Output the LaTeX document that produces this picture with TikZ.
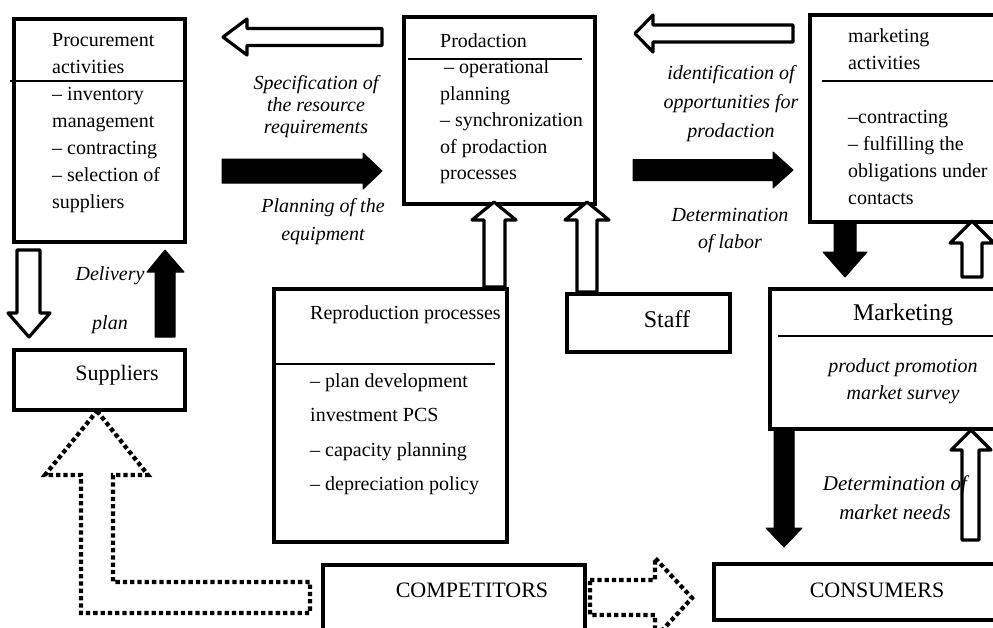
\documentclass[tikz,border=0pt]{standalone}
\usepackage{fontspec}
\setmainfont{Liberation Serif}
\tikzset{
  box/.style={draw, line width=4pt, anchor=north west, inner sep=0pt},
  divider/.style={line width=1.3pt},
  hollowarrow/.style={draw, fill=white, line width=3.2pt, line join=round},
  blackarrow/.style={draw, fill=black, line width=1pt, line join=round},
  dottedarrow/.style={draw, line width=4.3pt, dash pattern=on 4.3pt off 3pt, line join=miter},
  body/.style={inner sep=0pt, anchor=north west, align=left, font=\fontsize{20}{27}\selectfont},
  label/.style={inner sep=0pt, anchor=north, align=center, font=\fontsize{20}{27}\selectfont\itshape},
  title/.style={inner sep=0pt, font=\fontsize{22}{26}\selectfont}
}
\begin{document}
\begin{tikzpicture}[x=1pt,y=-1pt]
\useasboundingbox (0,0) rectangle (993,627);
\clip (0,0) rectangle (993,627);

% boxes
\node[box, minimum width=171pt, minimum height=223pt] (proc) at (12,17) {};
\node[box, minimum width=191pt, minimum height=187pt] (prod) at (402,15) {};
\node[box, minimum width=200pt, minimum height=207pt] (mkta) at (808,13) {};
\node[box, minimum width=171pt, minimum height=60pt] (supp) at (12,348) {};
\node[box, minimum width=233pt, minimum height=253pt] (repro) at (272,287) {};
\node[box, minimum width=163pt, minimum height=58pt] (staff) at (565,292) {};
\node[box, minimum width=240pt, minimum height=140pt] (mkt) at (768,287) {};
\node[box, minimum width=262pt, minimum height=70pt] (comp) at (321,563) {};
\node[box, minimum width=290pt, minimum height=56pt] (cons) at (712,562) {};

% dividers
\draw[divider] (10,81) -- (183,81);
\draw[divider] (408,59) -- (582,59);
\draw[divider] (822,81) -- (1000,81);
\draw[divider] (272,364) -- (495,364);
\draw[divider] (778,336) -- (1000,336);

% box texts
\node[body] (proctext) at (52,33.4) {Procurement\\activities\\– inventory\\management\\– contracting\\– selection of\\suppliers};
\node[body, font=\fontsize{20}{26.4}\selectfont] (prodtext) at (440,33.4) {Prodaction\\\hspace{4pt}– operational\\planning\\– synchronization\\of prodaction\\processes};
\node[body] (mktatext) at (848,28.4) {marketing\\activities\\[27pt]–contracting\\– fulfilling the\\obligations under\\contacts};
\node[body] (reprohead) at (310,305.4) {Reproduction processes};
\node[body, font=\fontsize{20}{34.5}\selectfont] (reprotext) at (310,373.4) {– plan development\\investment PCS\\– capacity planning\\– depreciation policy};
\node[title] (supptext) at (117,375) {Suppliers};
\node[title, font=\fontsize{24}{28}\selectfont] (stafftext) at (667,319) {Staff};
\node[title, font=\fontsize{24}{28}\selectfont] (mkthead) at (903,315) {Marketing};
\node[label] (mkttext) at (903,358.4) {product promotion\\market survey};
\node[title] (comptext) at (472,590) {COMPETITORS};
\node[title] (constext) at (877,590) {CONSUMERS};

% italic labels
\node[label, font=\fontsize{20}{22}\selectfont\itshape] (spec) at (316,75.4) {Specification of\\the resource\\requirements};
\node[label, font=\fontsize{20}{28}\selectfont\itshape] (plan) at (323,198.4) {Planning of the\\equipment};
\node[label, font=\fontsize{20}{29}\selectfont\itshape] (ident) at (731,65.4) {identification of\\opportunities for\\prodaction};
\node[label] (labor) at (730,208.4) {Determination\\of labor};
\node[label] (deliv) at (110,266.4) {Delivery\\[22pt]plan};

% arrows
\path[hollowarrow] (382,28.5) -- (247,28.5) -- (247,19) -- (223,37) -- (247,55) -- (247,45.5) -- (382,45.5) -- cycle;
\path[blackarrow] (222,159) -- (363,159) -- (363,153) -- (382,171) -- (363,189) -- (363,183) -- (222,183) -- cycle;
\path[hollowarrow] (793,25) -- (653,25) -- (653,15) -- (635,33.5) -- (653,52) -- (653,42) -- (793,42) -- cycle;
\path[blackarrow] (633,159.5) -- (773,159.5) -- (773,152) -- (793,170) -- (773,188) -- (773,180.5) -- (633,180.5) -- cycle;
\path[blackarrow] (834,221) -- (834,252) -- (823,252) -- (845,277) -- (867,252) -- (856,252) -- (856,221) -- cycle;
\path[hollowarrow] (962,277) -- (962,243) -- (950,243) -- (972,221) -- (994,243) -- (982,243) -- (982,277) -- cycle;
\path[blackarrow] (774,428) -- (774,528) -- (766,528) -- (784,547) -- (802,528) -- (794,528) -- (794,428) -- cycle;
\path[hollowarrow] (962,540) -- (962,450) -- (951,450) -- (971,430) -- (991,450) -- (979,450) -- (979,540) -- cycle;
\path[hollowarrow] (484,287) -- (484,220) -- (472,220) -- (494,202) -- (516,220) -- (505,220) -- (505,287) -- cycle;
\path[hollowarrow] (577,292) -- (577,220) -- (565,220) -- (587,202) -- (609,220) -- (597,220) -- (597,292) -- cycle;
\path[hollowarrow] (17,250) -- (17,313) -- (8,313) -- (29,337) -- (50,313) -- (40,313) -- (40,250) -- cycle;
\path[blackarrow] (155,337) -- (155,272) -- (147,272) -- (165,250) -- (184,272) -- (175,272) -- (175,337) -- cycle;

% market needs label (over the hollow arrow)
\node[label, font=\fontsize{21}{29}\selectfont\itshape] (needs) at (895,476) {Determination of\\market needs};

% dotted arrows
\path[dottedarrow] (97,411) -- (148,475) -- (113,475) -- (113,582) -- (310,582) -- (310,613) -- (81,613) -- (81,475) -- (45,475) -- cycle;
\path[dottedarrow] (590,580) -- (655,580) -- (655,558) -- (692,598) -- (655,638) -- (655,615) -- (590,615) -- cycle;
\end{tikzpicture}
\end{document}
